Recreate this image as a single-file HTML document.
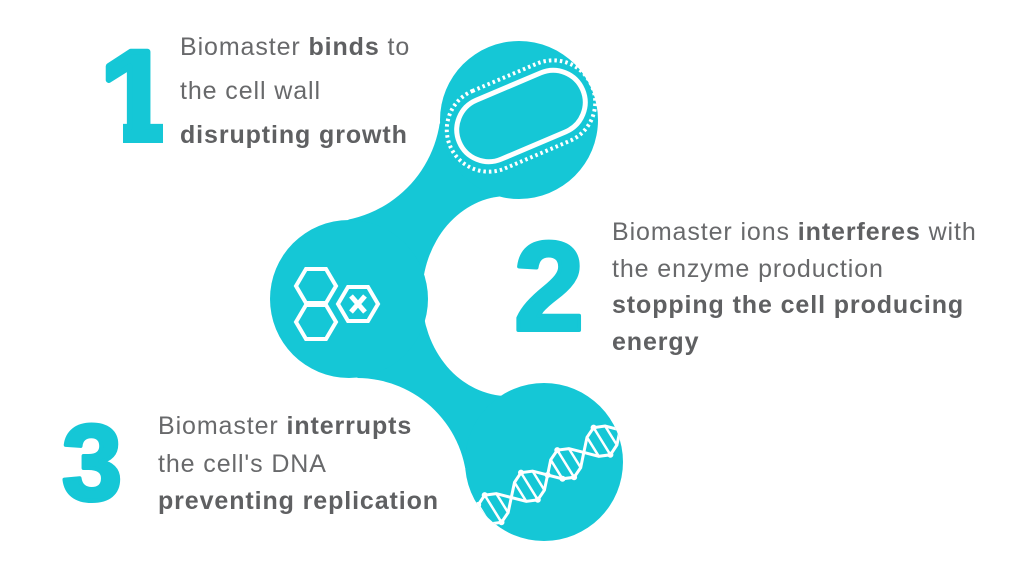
<!DOCTYPE html>
<html><head><meta charset="utf-8"><style>
html,body{margin:0;padding:0;background:#fff;}
svg{display:block}
.t{font-family:"Liberation Sans",sans-serif;font-size:25px;fill:#68696b;letter-spacing:0.9px;}
.b{font-weight:bold;fill:#5f6062}
.n{font-family:"Liberation Sans",sans-serif;font-weight:bold;fill:#15c7d6;stroke:#15c7d6;stroke-linejoin:round;}
</style></head><body>
<svg width="1024" height="583" viewBox="0 0 1024 583" xmlns="http://www.w3.org/2000/svg">
<defs><clipPath id="c3"><circle cx="544" cy="462" r="79"/></clipPath>
<clipPath id="c1"><polygon points="90,30 180,30 180,118 163,118 163,150 123,150 123,118 90,118"/></clipPath></defs>
<g fill="#15c7d6" stroke="#15c7d6">
<polygon points="519,120 349,299 544,462" stroke-width="1"/>
<line x1="519" y1="120" x2="349" y2="299" stroke-width="110"/>
<line x1="349" y1="299" x2="544" y2="462" stroke-width="110"/>
</g>
<g fill="#fff">
<circle cx="325" cy="106" r="116"/>
<circle cx="357" cy="488" r="110"/>
<ellipse cx="508" cy="296" rx="86" ry="100"/>
</g>
<g fill="#15c7d6">
<circle cx="519" cy="120" r="79"/>
<circle cx="349" cy="299" r="79"/>
<circle cx="544" cy="462" r="79"/>
</g>
<g transform="translate(521,116) rotate(-23)" fill="none" stroke="#fff">
<rect x="-67" y="-32" width="134" height="64" rx="32" stroke-width="5"/>
<rect x="-77" y="-42" width="154" height="84" rx="42" stroke-width="4" stroke-dasharray="2.5 3"/>
</g>
<g fill="none" stroke="#fff" stroke-width="4">
<polygon points="296,286 306,269 326,269 336,286 326,303 306,303"/>
<polygon points="296,322 306,305 326,305 336,322 326,339 306,339"/>
<polygon points="338,304 348,287 368,287 378,304 368,321 348,321"/>
<path d="M351,296 L365,312 M365,296 L351,312" stroke-width="5"/>
</g>
<g clip-path="url(#c3)" fill="none" stroke="#fff">
<polyline stroke-width="3" points="466,525 475,520 490,523.9 501.5,522.3 508.1,512.6 511.3,497.5 514.5,482.4 521,472.6 532.6,471.1 547.6,475 562.5,478.8 574.1,477.3 580.7,467.6 583.8,452.4 587,437.3 593.6,427.6 605.1,426 620.1,429.9 630,425"/>
<polyline stroke-width="3" points="466,515 475,520 478.2,504.9 484.7,495.1 496.3,493.6 511.3,497.5 526.3,501.4 537.8,499.8 544.4,490.1 547.6,475 550.7,459.8 557.3,450.1 568.9,448.6 583.8,452.4 598.8,456.3 610.4,454.8 616.9,445 620.1,429.9"/>
<path stroke-width="2.5" d="M490,523.9 L478.2,504.9 M501.5,522.3 L484.7,495.1 M508.1,512.6 L496.3,493.6 M514.5,482.4 L526.3,501.4 M521,472.6 L537.8,499.8 M532.6,471.1 L544.4,490.1 M562.5,478.8 L550.7,459.8 M574.1,477.3 L557.3,450.1 M580.7,467.6 L568.9,448.6 M587,437.3 L598.8,456.3 M593.6,427.6 L610.4,454.8 M605.1,426 L616.9,445"/>
</g>
<g fill="#fff" clip-path="url(#c3)">
<circle cx="490" cy="523.9" r="3"/><circle cx="478.2" cy="504.9" r="3"/><circle cx="501.5" cy="522.3" r="3"/><circle cx="484.7" cy="495.1" r="3"/>
<circle cx="521" cy="472.6" r="3"/><circle cx="537.8" cy="499.8" r="3"/><circle cx="547.6" cy="475" r="3"/>
<circle cx="562.5" cy="478.8" r="3"/><circle cx="557.3" cy="450.1" r="3"/><circle cx="574.1" cy="477.3" r="3"/>
<circle cx="593.6" cy="427.6" r="3"/><circle cx="610.4" cy="454.8" r="3"/><circle cx="620.1" cy="429.9" r="3"/>
</g>
<text class="n" x="100" y="140" font-size="128" stroke-width="6" clip-path="url(#c1)">1</text>
<text class="n" x="514" y="330" font-size="126" stroke-width="4">2</text>
<text class="n" x="62" y="500" font-size="108" stroke-width="4">3</text>
<text class="t" x="180" y="55">Biomaster <tspan class="b">binds</tspan> to</text>
<text class="t" x="180" y="99">the cell wall</text>
<text class="t b" x="180" y="143">disrupting growth</text>
<text class="t" x="612" y="240">Biomaster ions <tspan class="b">interferes</tspan> with</text>
<text class="t" x="612" y="277">the enzyme production</text>
<text class="t b" x="612" y="313">stopping the cell producing</text>
<text class="t b" x="612" y="350">energy</text>
<text class="t" x="158" y="434">Biomaster <tspan class="b">interrupts</tspan></text>
<text class="t" x="158" y="472">the cell's DNA</text>
<text class="t b" x="158" y="509">preventing replication</text>
</svg>
</body></html>
